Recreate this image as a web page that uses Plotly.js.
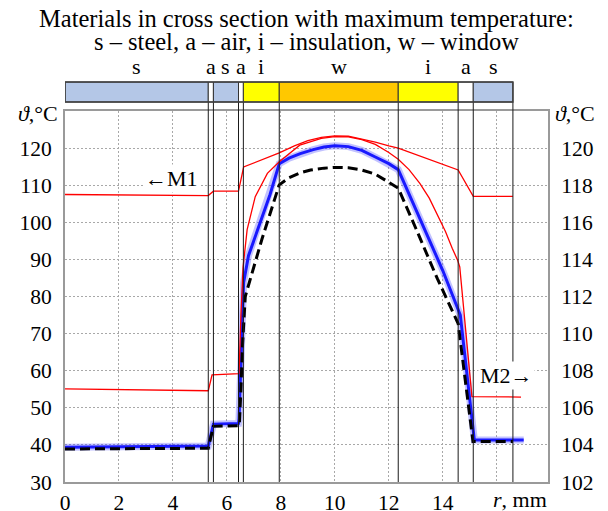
<!DOCTYPE html>
<html><head><meta charset="utf-8">
<script src="https://cdn.plot.ly/plotly-3.0.1.min.js"></script>
<style>html,body{margin:0;padding:0;background:#fff;} #chart{width:608px;height:511px;}</style>
</head><body><div id="chart"></div>
<script>
// Material layers (mm boundaries) and codes
const materialBounds = [0, 5.31, 5.5, 6.43, 6.61, 7.94, 12.35, 14.57, 15.13, 16.6];
const materialCodes = ['s', 'a', 's', 'a', 'i', 'w', 'i', 'a', 's'];

// Blue curve (left axis, °C)
const blueX = [0, 5.31, 5.5, 6.43, 6.45, 6.62, 6.8, 7.2, 7.6, 7.94, 8.3, 8.72, 9.2, 9.6, 10, 10.5, 11, 11.5, 12, 12.35, 13.0, 13.5, 14.0, 14.65, 15.17, 17.0];
const blueY = [39.4, 39.7, 45.6, 45.8, 47, 83.8, 91, 99.5, 107.5, 115.8, 117.3, 118.5, 119.6, 120.3, 120.6, 120.4, 119.4, 117.6, 115.8, 114.2, 103.5, 95.5, 87, 75, 41.3, 41.3];

// Black dashed curve (left axis, °C)
const dashX = [0, 5.31, 5.5, 6.43, 6.46, 6.52, 6.58, 6.68, 7.3, 7.94, 8.3, 8.7, 9.1, 9.6, 10, 10.5, 11, 11.5, 12, 12.35, 13.0, 13.8, 14.57, 15.12, 16.6];
const dashY = [38.9, 39.1, 45.0, 45.0, 45.2, 55, 67, 80, 95.5, 110.1, 112, 113.3, 114.1, 114.6, 114.8, 114.7, 114.1, 113.0, 110.8, 109.2, 98.4, 84.8, 72.7, 40.9, 40.9];

// Red curve M1 (left axis, °C)
const m1X = [0, 5.31, 5.5, 6.43, 6.62, 7.94, 8.5, 9, 9.5, 10, 10.5, 11, 11.5, 12, 12.35, 14.57, 15.13, 16.6];
const m1Y = [107.5, 107.2, 108.4, 108.4, 114.9, 118.7, 120.6, 122.0, 122.9, 123.3, 123.2, 122.5, 121.6, 120.6, 120.0, 114.1, 107.0, 107.0];

// Red curve M2 (right axis, °C)
const m2X = [0, 5.31, 5.45, 6.43, 6.45, 6.52, 6.6, 6.75, 7.05, 7.5, 7.94, 8.7, 9.5, 10, 10.5, 11, 11.5, 12, 12.35, 12.75, 13.15, 13.5, 13.77, 14.1, 14.35, 14.55, 14.63, 15.08, 16.9];
const m2Y = [107.02, 106.92, 107.78, 107.82, 107.84, 111.0, 113.6, 115.6, 117.38, 118.64, 119.26, 120.16, 120.52, 120.62, 120.6, 120.46, 120.2, 119.76, 119.4, 118.84, 118.1, 117.3, 116.48, 115.5, 114.6, 113.96, 113.6, 106.6, 106.58];

// Tick labels
const xTickVals = [0, 2, 4, 6, 8, 10, 12, 14, 16];
const xTickText = ['0', '2', '4', '6', '8', '10', '12', '14', ''];
const yLeftTicks = [30, 40, 50, 60, 70, 80, 90, 100, 110, 120];
const yRightTicks = [102, 104, 106, 108, 110, 112, 114, 116, 118, 120];

const titleLines = ['Materials in cross section with maximum temperature:', 's – steel, a – air, i – insulation, w – window'];

const FONT = 'Liberation Serif, Times New Roman, serif';
const fillOf = {s: '#B4C7E7', a: '#FFFFFF', i: '#FFFF00', w: '#FFC800'};

const barY0 = 1.0243, barY1 = 1.078;
const shapes = [];
for (let k = 1; k < materialBounds.length; k++) {
  shapes.push({type: 'line', xref: 'x', yref: 'paper', x0: materialBounds[k], x1: materialBounds[k], y0: 0, y1: barY0,
    line: {color: '#1a1a1a', width: 1}, layer: 'above'});
}
for (let k = 0; k < materialCodes.length; k++) {
  shapes.push({type: 'rect', xref: 'x', yref: 'paper', x0: materialBounds[k], x1: materialBounds[k + 1], y0: barY0, y1: barY1,
    fillcolor: fillOf[materialCodes[k]], line: {color: '#333', width: 1}, layer: 'above'});
}
shapes.push({type: 'rect', xref: 'x', yref: 'paper', x0: materialBounds[0], x1: materialBounds[materialBounds.length - 1], y0: barY0, y1: barY1,
  line: {color: '#404040', width: 1.5}, fillcolor: 'rgba(0,0,0,0)', layer: 'above'});

const annotations = [];
annotations.push({text: titleLines[0], xref: 'paper', yref: 'paper', x: 0.5, y: 1.2494, showarrow: false, xanchor: 'center', yanchor: 'middle', font: {family: FONT, size: 24.5, color: '#000'}});
annotations.push({text: titleLines[1], xref: 'paper', yref: 'paper', x: 0.5, y: 1.1874, showarrow: false, xanchor: 'center', yanchor: 'middle', font: {family: FONT, size: 24.5, color: '#000'}});
for (let k = 0; k < materialCodes.length; k++) {
  annotations.push({text: materialCodes[k], xref: 'x', yref: 'paper', x: (materialBounds[k] + materialBounds[k + 1]) / 2, y: 1.12,
    showarrow: false, xanchor: 'center', yanchor: 'middle', font: {family: FONT, size: 22, color: '#000'}});
}
annotations.push({text: '<i>ϑ</i>,°C', xref: 'paper', yref: 'paper', x: -0.0104, y: 0.993, xanchor: 'right', yanchor: 'middle', showarrow: false, font: {family: FONT, size: 22, color: '#000'}});
annotations.push({text: '<i>ϑ</i>,°C', xref: 'paper', yref: 'paper', x: 1.0104, y: 0.993, xanchor: 'left', yanchor: 'middle', showarrow: false, font: {family: FONT, size: 22, color: '#000'}});
annotations.push({text: '←M1', xref: 'x', yref: 'y', x: 3.96, y: 111.8, showarrow: false, bgcolor: '#fff', font: {family: FONT, size: 22, color: '#000'}});
annotations.push({text: 'M2→', xref: 'x', yref: 'y', x: 16.35, y: 58.6, showarrow: false, bgcolor: '#fff', font: {family: FONT, size: 22, color: '#000'}});
annotations.push({text: '<i>r</i>, mm', xref: 'x', yref: 'paper', x: 16.85, y: -0.046, showarrow: false, xanchor: 'center', yanchor: 'middle', font: {family: FONT, size: 22, color: '#000'}});

const traces = [
  {x: m1X, y: m1Y, type: 'scatter', mode: 'lines', line: {color: '#ff0000', width: 1.3}, hoverinfo: 'skip', showlegend: false},
  {x: blueX, y: blueY, type: 'scatter', mode: 'lines', line: {color: 'rgba(80,80,255,0.35)', width: 7}, hoverinfo: 'skip', showlegend: false},
  {x: blueX, y: blueY, type: 'scatter', mode: 'lines', line: {color: 'rgb(25,25,255)', width: 3}, showlegend: false},
  {x: dashX, y: dashY, type: 'scatter', mode: 'lines', line: {color: '#000', width: 3, dash: '10px,5px'}, showlegend: false},
  {x: m2X, y: m2Y, yaxis: 'y2', type: 'scatter', mode: 'lines', line: {color: '#ff0000', width: 1.3}, showlegend: false}
];

const axisCommon = {
  showline: true, linecolor: '#9a9a9a', linewidth: 2,
  ticks: 'outside', ticklen: 7, tickcolor: 'rgba(0,0,0,0)',
  tickfont: {family: FONT, size: 21.5, color: '#000'},
  zeroline: false
};

const GRID = {showgrid: true, gridcolor: '#a8a8a8', griddash: '1.5px,2.5px', gridwidth: 1};

const layout = {
  width: 608, height: 511,
  margin: {l: 65, r: 60, t: 111, b: 29, pad: 0},
  paper_bgcolor: '#fff', plot_bgcolor: '#fff',
  showlegend: false,
  xaxis: Object.assign({}, axisCommon, GRID, {range: [0, 17.9], tickmode: 'array', tickvals: xTickVals, ticktext: xTickText,
    ticks: '', ticklen: 0, mirror: true}),
  yaxis: Object.assign({}, axisCommon, GRID, {range: [30, 130], tickmode: 'array', tickvals: yLeftTicks, mirror: true}),
  yaxis2: Object.assign({}, axisCommon, {range: [102, 122], tickmode: 'array', tickvals: yRightTicks,
    overlaying: 'y', side: 'right', showgrid: false}),
  shapes: shapes,
  annotations: annotations
};

Plotly.newPlot('chart', traces, layout, {displayModeBar: false, staticPlot: true});
</script>
</body></html>
